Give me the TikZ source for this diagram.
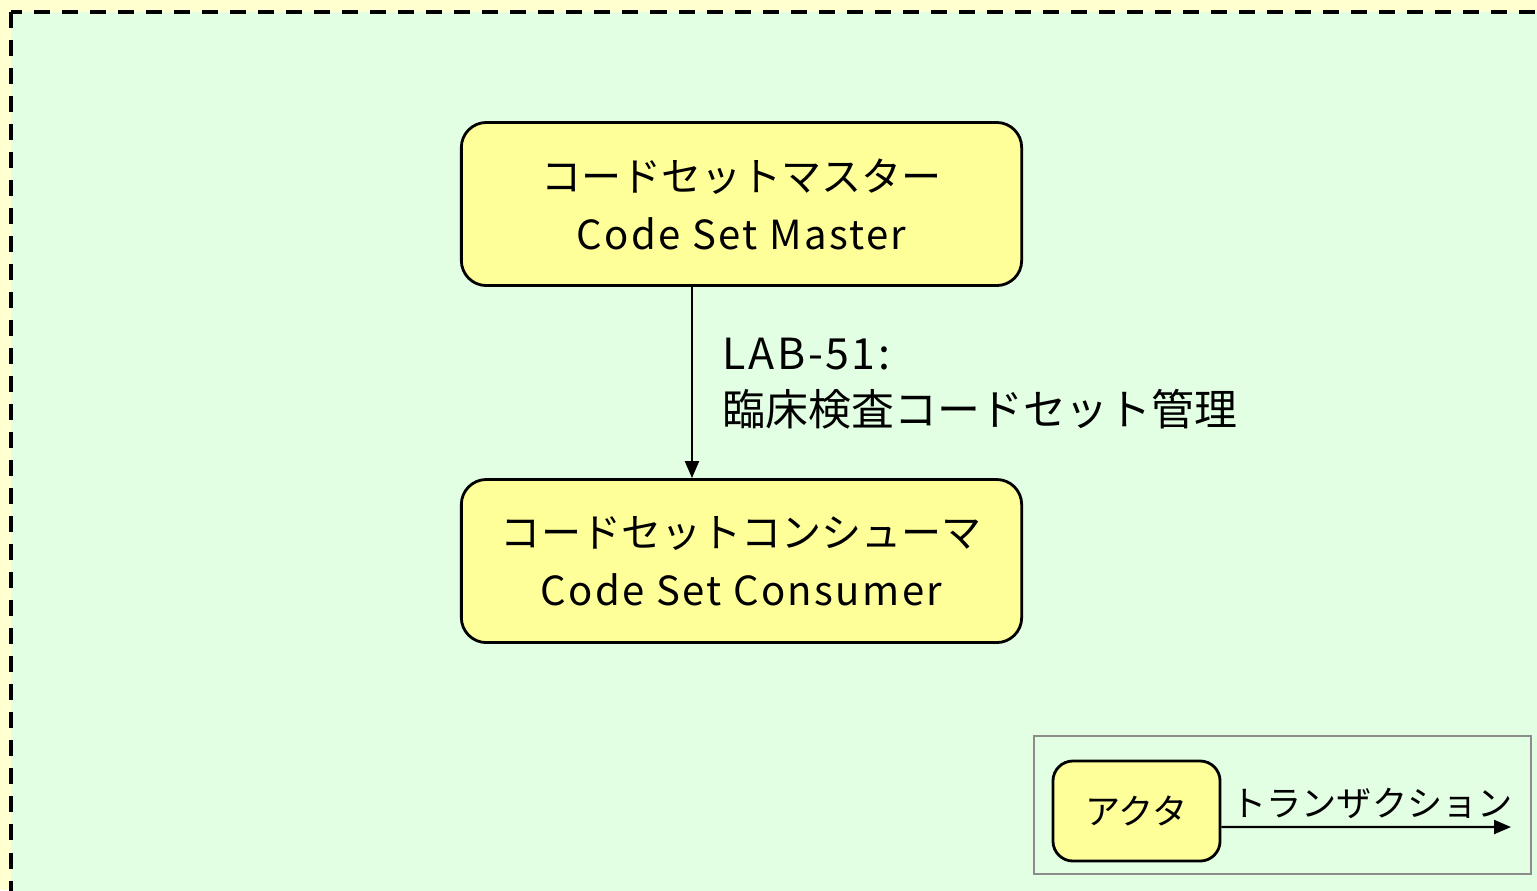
\documentclass[tikz,border=0pt]{standalone}
\usepackage{fontspec}
\setmainfont{Noto Sans CJK JP}
\usetikzlibrary{arrows.meta,positioning}
\definecolor{pageyellow}{RGB}{255,255,208}
\definecolor{groupgreen}{RGB}{227,255,227}
\definecolor{actoryellow}{RGB}{255,255,153}
\definecolor{legendgray}{RGB}{140,140,140}
\newcommand{\latinline}[1]{{\addfontfeature{LetterSpace=6}#1}}

\begin{document}
\begin{tikzpicture}[x=0.01cm, y=-0.01cm,
    actor/.style={draw, line width=0.8pt, fill=actoryellow, rounded corners=0.25cm,
      minimum width=5.6cm, minimum height=1.63cm, align=center, inner sep=0pt,
      font=\fontsize{11.4}{16.5}\selectfont},
    trans/.style={-{Triangle[length=0.17cm,width=0.14cm]}, line width=0.6pt}]
  \clip (0,0) rectangle (1537,890);
  \fill[pageyellow] (0,0) rectangle (1537,890);
  % dashed group frame, runs off the right and bottom edges
  \draw[fill=groupgreen, line width=1.1pt, dash pattern=on 0.16cm off 0.12cm] (11,12) rectangle (1600,950);

  \node[actor] (master) at (741.5,204) {コードセットマスター\\\latinline{Code Set Master}};
  \node[actor, below=1.91cm of master] (consumer) {コードセットコンシューマ\\\latinline{Code Set Consumer}};
  \draw[trans] ([xshift=-0.495cm]master.south) -- ([xshift=-0.495cm]consumer.north);
  \node[anchor=north west, align=left, inner sep=0pt, font=\fontsize{12.2}{16}\selectfont] (lab51) at (722,337)
    {\latinline{LAB-51:}\\臨床検査コードセット管理};

  % legend
  \node[draw=legendgray, line width=0.55pt, minimum width=4.97cm, minimum height=1.38cm] (legend) at (1282.5,805) {};
  \node[actor, minimum width=1.67cm, minimum height=1.0cm, rounded corners=0.2cm,
    font=\fontsize{10}{12}\selectfont] (legactor) at (1136.5,811) {アクタ};
  \coordinate (legend end) at (1511,827);
  \draw[trans] ([yshift=-0.16cm]legactor.east) -- (legend end);
  \node[anchor=south, inner sep=0pt, font=\fontsize{10}{12}\selectfont] (legtrans) at (1372,819) {トランザクション};
\end{tikzpicture}
\end{document}
